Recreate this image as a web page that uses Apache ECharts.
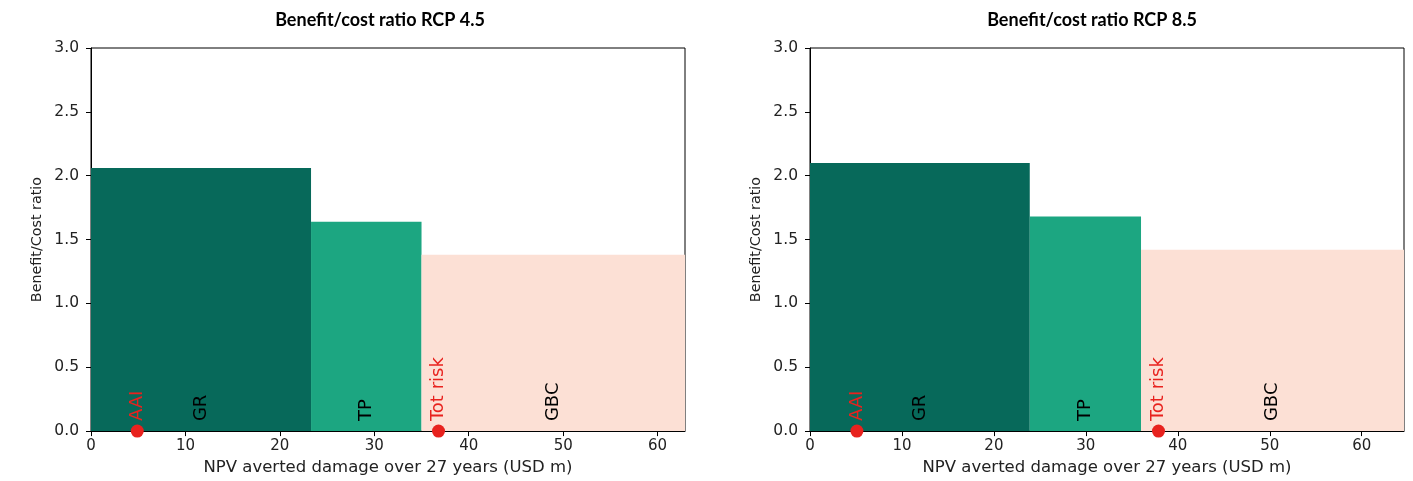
<!DOCTYPE html>
<html>
<head>
<meta charset="utf-8">
<script src="https://cdn.jsdelivr.net/npm/echarts@6/dist/echarts.min.js"></script>
<style>
  html, body { margin: 0; padding: 0; background: #ffffff; }
  #chart { width: 1413px; height: 481px; }
</style>
</head>
<body>
<div id="chart"></div>
<script>
// Adaptation measures, in the order they are stacked along the x axis
const measures = ['GR', 'TP', 'GBC'];
const measureColors = ['#07695a', '#1ca681', '#fce0d5'];

// RCP 4.5: averted damage (width of each block, USD m) and benefit/cost ratio (height)
const benefitRcp45 = [23.3, 11.7, 27.9];
const ratioRcp45 = [2.06, 1.64, 1.38];
const aaiRcp45 = 4.9;
const totRiskRcp45 = 36.8;

// RCP 8.5
const benefitRcp85 = [23.9, 12.1, 28.6];
const ratioRcp85 = [2.10, 1.68, 1.42];
const aaiRcp85 = 5.1;
const totRiskRcp85 = 37.9;

const xTicks = [0, 10, 20, 30, 40, 50, 60];
const titles = ['Benefit/cost ratio RCP 4.5', 'Benefit/cost ratio RCP 8.5'];
const xAxisTitle = 'NPV averted damage over 27 years (USD m)';
const yAxisTitle = 'Benefit/Cost ratio';
const markerNames = ['AAI', 'Tot risk'];

const RED = '#e8221e';
const FONT = '"DejaVu Sans", sans-serif';

// Cumulative block rows: [x0, x1, ratio, name, colourIndex]
function blocks(benefits, ratios) {
  const rows = [];
  let start = 0;
  benefits.forEach((b, i) => {
    rows.push([start, start + b, ratios[i], measures[i], i]);
    start += b;
  });
  return rows;
}

function total(arr) { return arr.reduce((a, b) => a + b, 0); }

function renderBlock(params, api) {
  const x0 = api.value(0), x1 = api.value(1), r = api.value(2);
  const idx = api.value(4);
  const tl = api.coord([x0, r]);
  const br = api.coord([x1, 0]);
  const cx = (tl[0] + br[0]) / 2;
  return {
    type: 'group',
    children: [
      {
        type: 'rect',
        shape: { x: tl[0], y: tl[1], width: br[0] - tl[0], height: br[1] - tl[1] },
        style: { fill: measureColors[idx] }
      },
      {
        type: 'text',
        x: cx, y: br[1] - 10,
        rotation: Math.PI / 2,
        z2: 10,
        style: {
          text: measures[idx], fill: '#000', font: '18px ' + FONT,
          align: 'left', verticalAlign: 'middle'
        }
      }
    ]
  };
}

function renderMarker(params, api) {
  const x = api.value(0);
  const p = api.coord([x, 0]);
  return {
    type: 'group',
    children: [
      {
        type: 'circle',
        shape: { cx: p[0], cy: p[1], r: 6.5 },
        style: { fill: RED },
        z2: 20
      },
      {
        type: 'text',
        x: p[0], y: p[1] - 10,
        rotation: Math.PI / 2,
        z2: 20,
        style: {
          text: markerNames[api.value(1)], fill: RED, font: '18px ' + FONT,
          align: 'left', verticalAlign: 'middle'
        }
      }
    ]
  };
}

const panels = [
  { benefit: benefitRcp45, ratio: ratioRcp45, aai: aaiRcp45, tot: totRiskRcp45,
    grid: { left: 91, right: 728, top: 48, bottom: 47 }, titleX: 375 },
  { benefit: benefitRcp85, ratio: ratioRcp85, aai: aaiRcp85, tot: totRiskRcp85,
    grid: { left: 810, right: 9, top: 48, bottom: 47 }, titleX: 1087 }
];

const option = {
  backgroundColor: '#ffffff',
  animation: false,
  title: panels.map((p, i) => ({
    text: titles[i], left: p.titleX, top: 6, textAlign: 'center',
    textStyle: { fontFamily: 'Lato, "Open Sans", sans-serif', fontWeight: 'bold', fontSize: 18, color: '#000' }
  })),
  grid: panels.map(p => Object.assign({ show: true, borderColor: '#000', borderWidth: 1, backgroundColor: 'transparent' }, p.grid)),
  xAxis: panels.map((p, i) => ({
    type: 'value', gridIndex: i, min: 0, max: total(p.benefit), interval: 10,
    name: xAxisTitle, nameLocation: 'middle', nameGap: 25,
    nameTextStyle: { fontFamily: FONT, fontSize: 16.5, color: '#222' },
    axisLine: { show: true, lineStyle: { color: '#000', width: 1 } },
    axisTick: { show: true, inside: false, length: 5, customValues: xTicks, lineStyle: { color: '#000' } },
    axisLabel: { customValues: xTicks, margin: 8, fontFamily: FONT, fontSize: 15, color: '#222' },
    splitLine: { show: false }
  })),
  yAxis: panels.map((p, i) => ({
    type: 'value', gridIndex: i, min: 0, max: 3, interval: 0.5,
    name: yAxisTitle, nameLocation: 'middle', nameGap: 47, nameRotate: 90,
    nameTextStyle: { fontFamily: FONT, fontSize: 14.3, color: '#222' },
    axisLine: { show: true, lineStyle: { color: '#000', width: 1 } },
    axisTick: { show: true, inside: false, length: 5, lineStyle: { color: '#000' } },
    axisLabel: { margin: 12, fontFamily: FONT, fontSize: 15.5, color: '#222',
      formatter: v => v.toFixed(1) },
    splitLine: { show: false }
  })),
  series: panels.flatMap((p, i) => [
    {
      type: 'custom', xAxisIndex: i, yAxisIndex: i,
      renderItem: renderBlock,
      data: blocks(p.benefit, p.ratio),
      z: 1
    },
    {
      type: 'custom', xAxisIndex: i, yAxisIndex: i,
      renderItem: renderMarker,
      clip: false,
      data: [[p.aai, 0], [p.tot, 1]],
      z: 5
    }
  ])
};

const chart = echarts.init(document.getElementById('chart'), null, { renderer: 'canvas' });
chart.setOption(option);
</script>
</body>
</html>
